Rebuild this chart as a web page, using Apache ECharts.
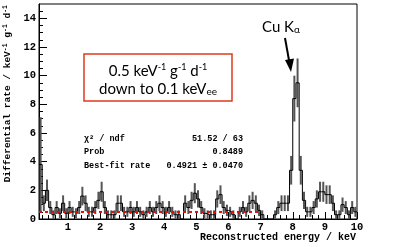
<!DOCTYPE html>
<html><head><meta charset="utf-8">
<script src="https://cdn.jsdelivr.net/npm/echarts@6/dist/echarts.min.js"></script>
<style>html,body{margin:0;padding:0;background:#fff}#c{width:398px;height:247px}</style>
</head><body><div id="c"></div>
<script>
// Histogram: bin edges from 0.1 keV in 0.1 keV steps
const binStart = 0.1;
const binWidth = 0.1;
const rates = [
 3.8,1.1,2.0,0.8,0.3,0.8,0.4,1.1,0.4,          // 0.1-0.9
 0.8,0.5,0.4,0.8,1.6,1.1,0.5,0.5,0.8,1.3,      // 1.0-1.9
 1.9,0.8,0.3,0.3,0.3,1.1,1.1,0.5,0.5,0.8,      // 2.0-2.9
 0.5,0.8,0.5,0.3,0.5,0.8,0.5,0.8,1.1,0.8,      // 3.0-3.9
 0.5,0.8,0.5,0.3,0.3,0.0,1.1,0.8,1.3,1.8,      // 4.0-4.9
 1.4,0.8,0.4,0.3,0.3,0.3,1.4,1.7,0.8,0.6,      // 5.0-5.9
 0.5,0.3,0.0,0.5,0.8,0.5,1.1,1.3,1.1,0.6,      // 6.0-6.9
 0.3,0.0,0.0,0.0,0.3,0.8,1.1,1.1,1.1,3.4,      // 7.0-7.9
 8.4,9.5,3.4,1.3,0.5,0.5,0.8,1.4,1.9,1.9,      // 8.0-8.9
 1.7,1.7,1.1,0.3,0.3,1.0,0.8,0.3,0.8,0.5       // 9.0-9.9
];
const errors = [
 3.3,0.55,0.75,0.45,0.3,0.45,0.35,0.55,0.35,
 0.45,0.35,0.35,0.45,0.65,0.55,0.35,0.35,0.45,0.6,
 0.7,0.45,0.3,0.3,0.3,0.55,0.55,0.35,0.35,0.45,
 0.35,0.45,0.35,0.3,0.35,0.45,0.35,0.45,0.55,0.45,
 0.35,0.45,0.35,0.3,0.3,0.0,0.55,0.45,0.6,0.7,
 0.6,0.45,0.35,0.3,0.3,0.3,0.6,0.65,0.45,0.4,
 0.35,0.3,0.0,0.35,0.45,0.35,0.55,0.6,0.55,0.4,
 0.3,0.0,0.0,0.0,0.3,0.45,0.55,0.55,0.55,1.0,
 1.6,1.7,1.0,0.6,0.35,0.35,0.45,0.6,0.7,0.7,
 0.65,0.65,0.55,0.3,0.3,0.5,0.45,0.3,0.45,0.35
];
const fitRange = [0.1, 7.0];
const fitRate = 0.4921;
const xTicks = [1,2,3,4,5,6,7,8,9,10];
const yTicks = [0,2,4,6,8,10,12,14];
const statNames = ["χ² / ndf", "Prob", "Best-fit rate"];
const statValues = ["51.52 / 63", "0.8489", "0.4921 ± 0.0470"];

const xMinor = []; for (let v = 0.2; v < 10; v += 0.2) xMinor.push(+v.toFixed(1));
const yMinor = []; for (let v = 0.5; v < 15; v += 0.5) yMinor.push(v);

const stepData = [];
const errData = [];
rates.forEach((r, i) => {
  const lo = +(binStart + i * binWidth).toFixed(2), hi = +(lo + binWidth).toFixed(2);
  stepData.push([lo, r], [hi, r]);
  errData.push([(lo + hi) / 2, r, errors[i]]);
});

const mono = "'Liberation Mono', 'DejaVu Sans Mono', monospace";
const chart = echarts.init(document.getElementById('c'), null, {renderer: 'canvas'});
const G = {left: 39, right: 41, top: 4, bottom: 28};
const statGraphics = [];
statNames.forEach((n, i) => {
  statGraphics.push({type: 'text', left: 84, top: 134 + i * 13.5,
    style: {text: n, font: 'bold 8.5px ' + mono, fill: '#000'}});
  statGraphics.push({type: 'text', right: 398 - 243, top: 134 + i * 13.5,
    style: {text: statValues[i], font: 'bold 8.5px ' + mono, fill: '#000', align: 'right'}});
});

chart.setOption({
  animation: false,
  grid: Object.assign({show: true, borderColor: '#000', borderWidth: 1, backgroundColor: '#fff'}, G),
  xAxis: [{
    type: 'value', min: 0.1, max: 10,
    axisLine: {lineStyle: {color: '#000', width: 1}},
    axisTick: {inside: true, length: 7, customValues: xTicks, lineStyle: {color: '#000'}},
    axisLabel: {customValues: xTicks, color: '#000', fontFamily: mono, fontWeight: 'bold', fontSize: 10.5, margin: 3},
    splitLine: {show: false}
  }, {
    type: 'value', min: 0.1, max: 10, position: 'bottom',
    axisLine: {show: false},
    axisTick: {inside: true, length: 4, customValues: xMinor, lineStyle: {color: '#000'}},
    axisLabel: {show: false}, splitLine: {show: false}
  }],
  yAxis: [{
    type: 'value', min: 0, max: 15,
    axisLine: {show: true, lineStyle: {color: '#000', width: 1}},
    axisTick: {show: true, inside: true, length: 8, customValues: yTicks, lineStyle: {color: '#000'}},
    axisLabel: {customValues: yTicks, color: '#000', fontFamily: mono, fontWeight: 'bold', fontSize: 10.5, margin: 3},
    splitLine: {show: false}
  }, {
    type: 'value', min: 0, max: 15, position: 'left',
    axisLine: {show: false},
    axisTick: {show: true, inside: true, length: 4, customValues: yMinor, lineStyle: {color: '#000'}},
    axisLabel: {show: false}, splitLine: {show: false}
  }],
  series: [{
    type: 'custom', xAxisIndex: 0, yAxisIndex: 0, data: errData, clip: true, z: 2,
    renderItem: function (params, api) {
      const x = api.value(0), v = api.value(1), e = api.value(2);
      if (e <= 0) return null;
      const p1 = api.coord([x, Math.max(0, v - e)]), p2 = api.coord([x, v + e]);
      return {type: 'line', shape: {x1: p1[0], y1: p1[1], x2: p2[0], y2: p2[1]},
        style: {stroke: '#555', lineWidth: 2}};
    }
  }, {
    type: 'line', data: stepData, symbol: 'none', z: 3,
    lineStyle: {color: '#000', width: 1}
  }, {
    type: 'line', data: [[fitRange[0], fitRate], [fitRange[1], fitRate]], symbol: 'none', z: 4,
    lineStyle: {color: '#ff0000', width: 2, type: [3, 3]}
  }],
  graphic: [
    {type: 'text', x: 356, y: 237, style: {text: 'Reconstructed energy / keV', font: 'bold 10px ' + mono,
      fill: '#000', align: 'right', verticalAlign: 'middle'}},
    {type: 'text', x: 8, y: 5, rotation: Math.PI / 2,
      style: {text: 'Differential rate / keV{s|-1} g{s|-1} d{s|-1}', font: 'bold 9.5px ' + mono, fill: '#000',
        align: 'right', verticalAlign: 'middle',
        rich: {s: {font: 'bold 6.5px ' + mono, fill: '#000', verticalAlign: 'top', padding: [0, 0, 5, 0]}}}},
    {type: 'rect', shape: {x: 84, y: 54, width: 148, height: 47},
      style: {fill: '#fff', stroke: '#e03a1e', lineWidth: 1.5}},
    {type: 'text', x: 158, y: 71, style: {text: '0.5 keV{s|-1} g{s|-1} d{s|-1}', font: '15px Lato', fill: '#000',
      align: 'center', verticalAlign: 'middle',
      rich: {s: {font: '9px Lato', fill: '#000', padding: [0, 0, 8, 0]}}}},
    {type: 'text', x: 158, y: 89, style: {text: 'down to 0.1 keV{b|ee}', font: '15px Lato', fill: '#000',
      align: 'center', verticalAlign: 'middle',
      rich: {b: {font: '10px Lato', fill: '#000', padding: [6, 0, 0, 0]}}}},
    {type: 'text', x: 262, y: 27, style: {text: 'Cu K{b|α}', font: '15px Lato', fill: '#000',
      verticalAlign: 'middle', rich: {b: {font: '10px Lato', fill: '#000', padding: [6, 0, 0, 0]}}}},
    {type: 'line', shape: {x1: 285, y1: 38, x2: 289.5, y2: 63}, style: {stroke: '#000', lineWidth: 2}},
    {type: 'polygon', shape: {points: [[285, 60], [294, 58.5], [291, 72]]}, style: {fill: '#000'}}
  ].concat(statGraphics)
});
</script></body></html>
